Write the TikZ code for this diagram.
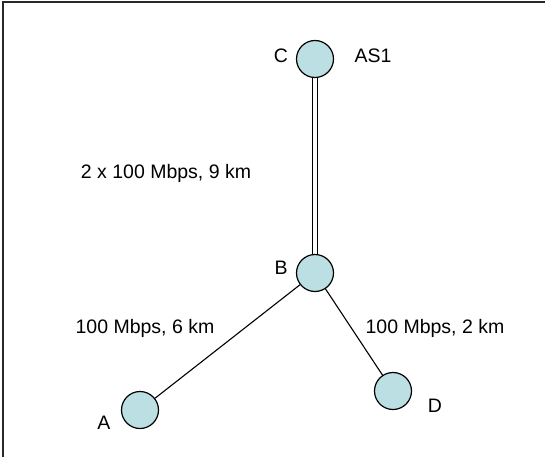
\documentclass[tikz,border=0pt]{standalone}
\usepackage{fontspec}
\setmainfont{Liberation Sans}
\definecolor{nodefill}{RGB}{187,223,226}
\definecolor{framegray}{RGB}{40,40,40}
\tikzset{
  router/.style={circle, draw, line width=1.2pt, fill=nodefill, minimum size=37pt, inner sep=0pt},
  lbl/.style={font=\fontsize{19.5}{23}\selectfont, inner sep=0pt},
  link/.style={line width=1.1pt}
}
\begin{document}
\begin{tikzpicture}[x=1pt, y=-1pt]
\useasboundingbox (0,0) rectangle (545,457);
\draw[framegray, line width=2.2pt] (3,457) -- (3,2) -- (545,2);
\node[router] (nc) at (315,59){};
\node[router] (nb) at (315,273){};
\node[router] (na) at (140,410){};
\node[router] (nd) at (393,391){};
\node[lbl] (lc) at (281,56){C};
\node[lbl] (las1) at (373,56){AS1};
\node[lbl] (lb) at (281,268){B};
\node[lbl] (la) at (104,423){A};
\node[lbl] (ld) at (435,406){D};
\node[lbl] (lcb) at (166,173){2 x 100 Mbps, 9 km};
\node[lbl] (lab) at (145,328){100 Mbps, 6 km};
\node[lbl] (lbd) at (435,328){100 Mbps, 2 km};
\draw[link]([xshift=-2.3pt]nc.south) -- ([xshift=-2.3pt]nb.north);
\draw[link]([xshift=2.3pt]nc.south) -- ([xshift=2.3pt]nb.north);
\draw[link](nb) -- (na);
\draw[link](nb) -- (nd);
\end{tikzpicture}
\end{document}
